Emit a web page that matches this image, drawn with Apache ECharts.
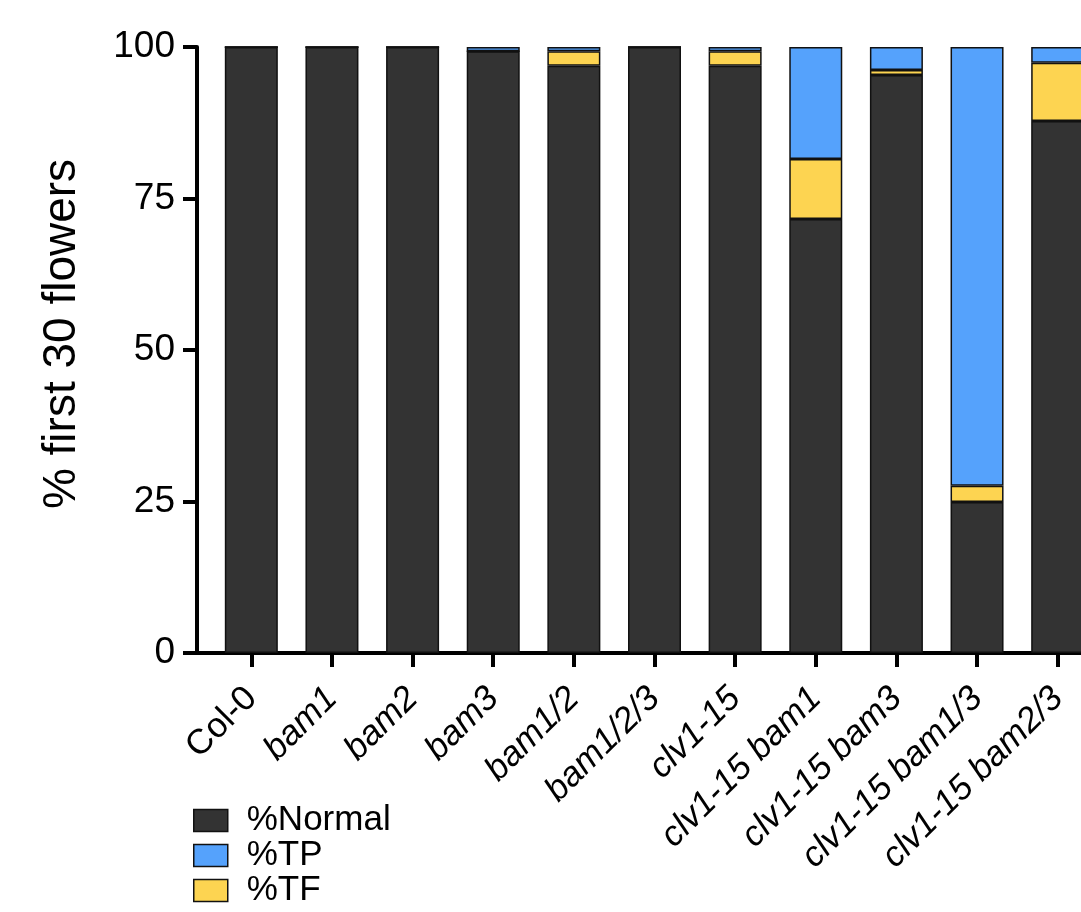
<!DOCTYPE html>
<html>
<head>
<meta charset="utf-8">
<script src="https://cdn.jsdelivr.net/npm/echarts@6/dist/echarts.min.js"></script>
<style>html,body{margin:0;padding:0;background:#fff;}#c{width:1081px;height:912px;}</style>
</head>
<body>
<div id="c"></div>
<script>
const categories = ['Col-0','bam1','bam2','bam3','bam1/2','bam1/2/3','clv1-15','clv1-15 bam1','clv1-15 bam3','clv1-15 bam1/3','clv1-15 bam2/3'];
const normalValues = [100, 100, 100, 99.3, 96.9, 100, 96.9, 71.6, 95.4, 24.9, 87.8];
const tfValues     = [0, 0, 0, 0, 2.4, 0, 2.4, 9.9, 0.8, 2.7, 9.6];
const tpValues     = [0, 0, 0, 0.7, 0.7, 0, 0.7, 18.5, 3.8, 72.4, 2.6];
const yTicks = [0, 25, 50, 75, 100];

const FONT = "'Liberation Sans', Arial, sans-serif";
const chart = echarts.init(document.getElementById('c'), null, {renderer: 'canvas'});
const barStyle = (c) => ({color: c, borderColor: '#111', borderWidth: 1.5});
chart.setOption({
  animation: false,
  backgroundColor: '#fff',
  grid: {left: 211, top: 47, width: 887, height: 606, containLabel: false, outerBoundsMode: 'none'},
  legend: {
    orient: 'vertical', left: 188, top: 798, height: 200,
    itemWidth: 34, itemHeight: 22, itemGap: 0,
    icon: 'rect',
    data: ['%Normal', '%TP', '%TF'],
    textStyle: {fontFamily: FONT, fontSize: 35, color: '#000', padding: [0,0,0,14]},
    itemStyle: {borderColor: '#111', borderWidth: 1.5}
  },
  xAxis: {
    type: 'category', data: categories,
    axisLine: {show: true, lineStyle: {color: '#000', width: 4}},
    axisTick: {show: true, alignWithLabel: true, length: 14, lineStyle: {color: '#000', width: 4}},
    axisLabel: {
      rotate: 45, margin: 40, interval: 0, color: '#000',
      formatter: (v) => v === 'Col-0' ? '{n|' + v + '}' : '{i|' + v + '}',
      rich: {
        n: {fontFamily: FONT, fontSize: 35, color: '#000'},
        i: {fontFamily: FONT, fontSize: 35, fontStyle: 'italic', color: '#000'}
      }
    }
  },
  yAxis: {
    type: 'value', min: 0, max: 100, interval: 25, offset: 14,
    name: '% first 30 flowers', nameLocation: 'middle', nameGap: 112,
    nameTextStyle: {fontFamily: FONT, fontSize: 46, color: '#000', padding: [0,0,0,32]},
    axisLine: {show: true, lineStyle: {color: '#000', width: 4}},
    axisTick: {show: true, length: 14, lineStyle: {color: '#000', width: 4}},
    axisLabel: {fontFamily: FONT, fontSize: 37, color: '#000', margin: 22,
      formatter: (v) => yTicks.includes(v) ? String(v) : ''},
    splitLine: {show: false}
  },
  graphic: [{
    type: 'line', shape: {x1: 195, y1: 653, x2: 213, y2: 653},
    style: {stroke: '#000', lineWidth: 4}, z: 100
  }],
  series: [
    {name: '%Normal', type: 'bar', stack: 'a', data: normalValues, barWidth: 53, itemStyle: barStyle('#333333')},
    {name: '%TF', type: 'bar', stack: 'a', data: tfValues, barWidth: 53, itemStyle: barStyle('#FDD451')},
    {name: '%TP', type: 'bar', stack: 'a', data: tpValues, barWidth: 53, itemStyle: barStyle('#55A2FC')}
  ]
});
</script>
</body>
</html>
